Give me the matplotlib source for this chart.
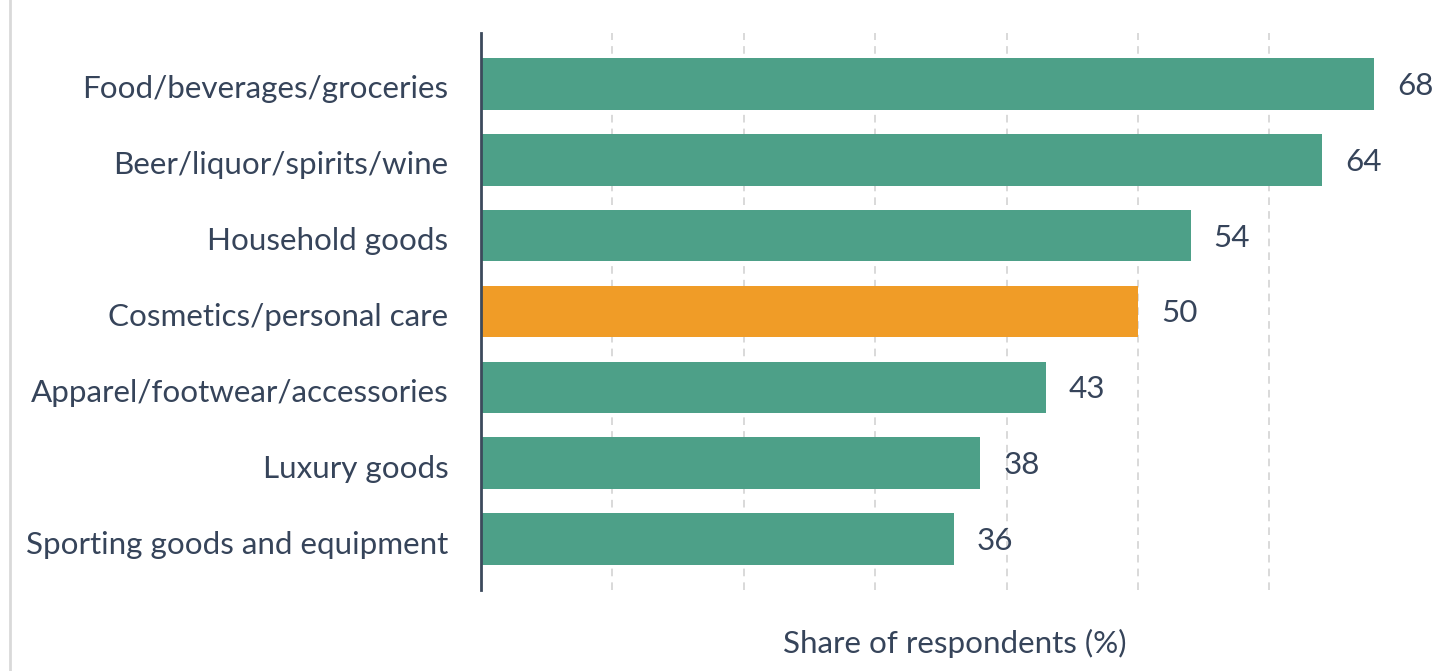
import matplotlib
matplotlib.use("Agg")
import matplotlib.pyplot as plt
from matplotlib.lines import Line2D
from matplotlib.transforms import ScaledTranslation

categories = [
    "Food/beverages/groceries",
    "Beer/liquor/spirits/wine",
    "Household goods",
    "Cosmetics/personal care",
    "Apparel/footwear/accessories",
    "Luxury goods",
    "Sporting goods and equipment",
]
values = [68, 64, 54, 50, 43, 38, 36]
highlight = "Cosmetics/personal care"
x_label = "Share of respondents (%)"

GREEN = "#4da088"
ORANGE = "#f09c27"
TEXT = "#36445a"
FS = 22.6

plt.rcParams["font.family"] = ["Lato", "DejaVu Sans"]

W, H = 1435, 671
fig = plt.figure(figsize=(W / 100, H / 100), dpi=100)
ax = fig.add_axes([481 / W, 1 - 590 / H, (1427 - 481) / W, (590 - 33) / H])

colors = [ORANGE if c == highlight else GREEN for c in categories]
y = range(len(categories))
ax.barh(y, values, height=0.68, color=colors, zorder=2)

for yi, v in zip(y, values):
    ax.annotate(f"{v}", xy=(v, yi), xytext=(23, -2), textcoords="offset pixels",
                va="center", ha="left", fontsize=FS, color=TEXT)

ax.set_xlim(0, 72)
ax.set_ylim(len(categories) - 0.33, -0.67)
ax.set_yticks(list(y))
ax.set_yticklabels(categories, fontsize=FS, color=TEXT)
ax.tick_params(axis="y", length=0, pad=23.5)
# nudge category labels slightly down
shift = ScaledTranslation(0, -3 / 100, fig.dpi_scale_trans)
for lbl in ax.get_yticklabels():
    lbl.set_transform(lbl.get_transform() + shift)
ax.set_xticks(range(10, 70, 10))
ax.tick_params(axis="x", length=0, labelbottom=False)
ax.grid(axis="x", color="#cfcfcf", linestyle=(0, (5, 4)), linewidth=1.1, zorder=0)

for s in ["top", "right", "bottom"]:
    ax.spines[s].set_visible(False)
ax.spines["left"].set_color("#3c4a5c")
ax.spines["left"].set_linewidth(2)
ax.spines["left"].set_zorder(3)

fig.text(955 / W, 1 - 643 / H, x_label, ha="center", va="center",
         fontsize=FS, color=TEXT)

fig.add_artist(Line2D([10 / W, 10 / W], [0, 1], transform=fig.transFigure,
                      color="#d9d9d9", linewidth=2))

fig.savefig("out.png", dpi=100, facecolor="white")
